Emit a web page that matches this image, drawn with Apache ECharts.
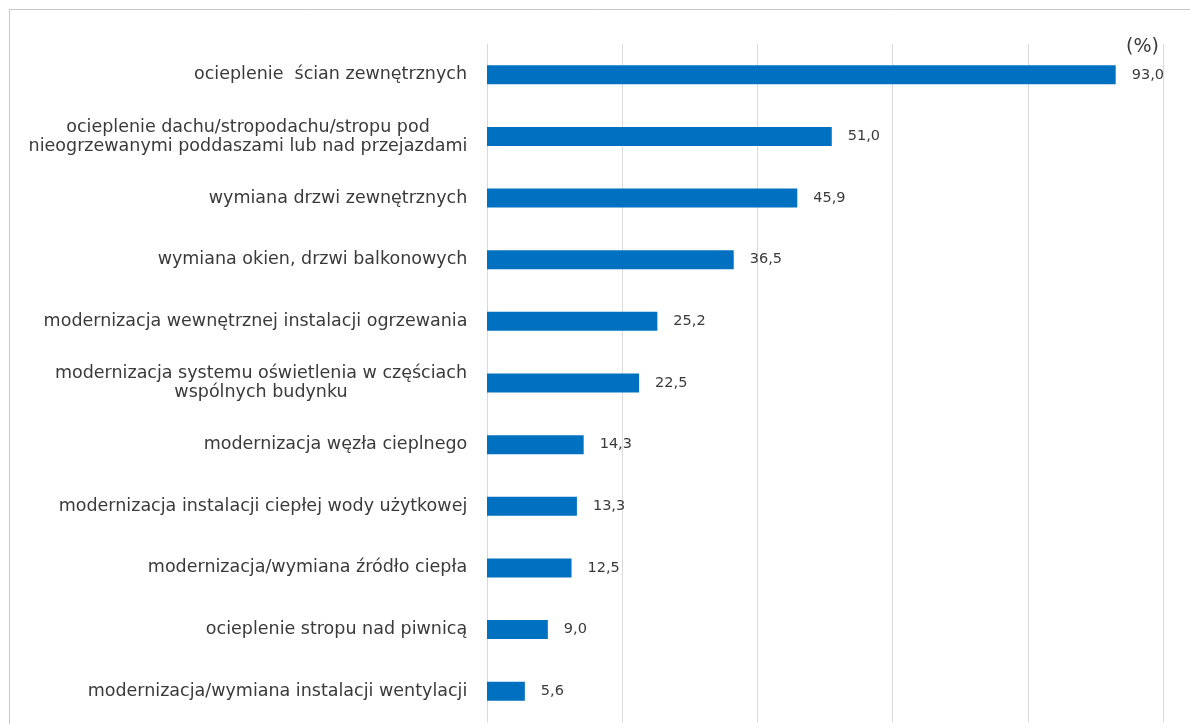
<!DOCTYPE html>
<html><head><meta charset="utf-8">
<script src="https://cdn.jsdelivr.net/npm/echarts@6/dist/echarts.min.js"></script>
<style>html,body{margin:0;padding:0;background:#fff}#c{width:1190px;height:724px}</style>
</head><body><div id="c"></div>
<script>
const categories = [
  "ocieplenie  ścian zewnętrznych",
  "ocieplenie dachu/stropodachu/stropu pod\nnieogrzewanymi poddaszami lub nad przejazdami",
  "wymiana drzwi zewnętrznych",
  "wymiana okien, drzwi balkonowych",
  "modernizacja wewnętrznej instalacji ogrzewania",
  "modernizacja systemu oświetlenia w częściach\nwspólnych budynku",
  "modernizacja węzła cieplnego",
  "modernizacja instalacji ciepłej wody użytkowej",
  "modernizacja/wymiana źródło ciepła",
  "ocieplenie stropu nad piwnicą",
  "modernizacja/wymiana instalacji wentylacji"
];
const values = [93.0, 51.0, 45.9, 36.5, 25.2, 22.5, 14.3, 13.3, 12.5, 9.0, 5.6];
const unitLabel = "(%)";

const FONT = "'DejaVu Sans'";
const FS = 17.5;
const ctx = document.createElement('canvas').getContext('2d');
ctx.font = FS + "px " + FONT;
const rich = {};
categories.forEach((c, i) => {
  const w = Math.max(...c.split("\n").map(l => ctx.measureText(l).width));
  rich['m' + i] = {width: Math.ceil(w) + 1, align: 'center', fontSize: FS, fontFamily: FONT, color: '#3a3a3a', lineHeight: 19};
});

const chart = echarts.init(document.getElementById('c'), null, {renderer: 'canvas'});
chart.setOption({
  animation: false,
  grid: {left: 487, right: 27, top: 44, bottom: 2, containLabel: false},
  xAxis: {
    type: 'value', min: 0, max: 100, interval: 20,
    axisLabel: {show: false}, axisTick: {show: false}, axisLine: {show: false},
    splitLine: {show: true, lineStyle: {color: '#d9d9d9', width: 1}}
  },
  yAxis: {
    type: 'category', inverse: true, data: categories,
    axisTick: {show: false},
    axisLine: {show: true, lineStyle: {color: '#d9d9d9'}},
    axisLabel: {
      margin: 19, fontSize: FS, fontFamily: FONT, color: '#3a3a3a', lineHeight: 19,
      formatter: function (v, i) {
        return v.split("\n").map(l => '{m' + i + '|' + l + '}').join("\n");
      },
      rich: rich
    }
  },
  series: [{
    type: 'bar', data: values, barWidth: 19,
    itemStyle: {color: '#0070C0'},
    label: {
      show: true, position: 'right', distance: 16,
      fontSize: 14.5, fontFamily: FONT, color: '#3a3a3a',
      formatter: p => p.value.toFixed(1).replace('.', ',')
    }
  }],
  graphic: [
    {type: 'line', shape: {x1: 9, y1: 9.5, x2: 1190, y2: 9.5}, style: {stroke: '#c8c8c8', lineWidth: 1}},
    {type: 'line', shape: {x1: 9.5, y1: 9, x2: 9.5, y2: 724}, style: {stroke: '#c8c8c8', lineWidth: 1}},
    {type: 'text', left: 1126, top: 38, style: {text: unitLabel, fontSize: 19, fontFamily: FONT, fill: '#3a3a3a'}}
  ]
});
</script></body></html>
